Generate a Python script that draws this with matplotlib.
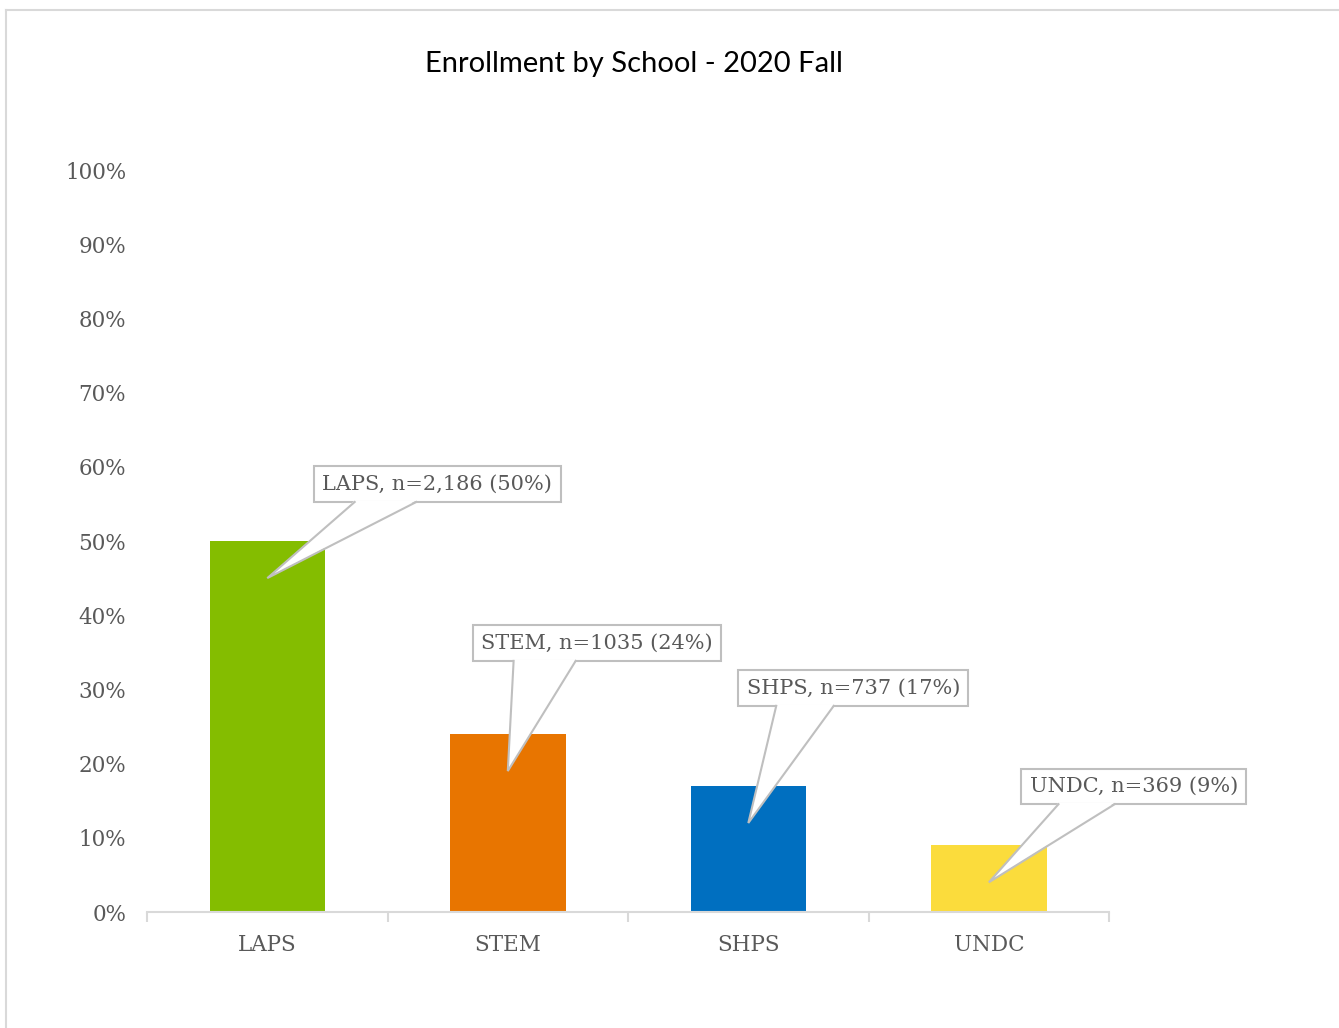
import matplotlib
matplotlib.use("Agg")
import matplotlib.pyplot as plt
from matplotlib.lines import Line2D
from matplotlib.patches import Polygon
from matplotlib.ticker import FixedLocator, PercentFormatter

schools = ["LAPS", "STEM", "SHPS", "UNDC"]
counts = ["2,186", "1035", "737", "369"]
shares = [50, 24, 17, 9]
colors = ["#84bd00", "#e87500", "#006fc0", "#fbdc3c"]
# where each callout box sits relative to the pointer tip (pixels)
callout_offsets = [(170, 94), (89, 128), (105, 135), (145, 96)]

gray_text = "#595959"
edge_gray = "#bfbfbf"
serif = "DejaVu Serif"

fig = plt.figure(figsize=(13.39, 10.28), dpi=100)
ax = fig.add_axes([0.1098, 0.1128, 0.7185, 0.7218])

x = range(len(schools))
vals = [s / 100 for s in shares]
ax.bar(x, vals, width=0.48, color=colors, zorder=2)

ax.set_xlim(-0.5, len(schools) - 0.5)
ax.set_ylim(0, 1)
ax.yaxis.set_major_locator(FixedLocator([i / 10 for i in range(11)]))
ax.yaxis.set_major_formatter(PercentFormatter(1.0, decimals=0))

for side in ["top", "right", "left"]:
    ax.spines[side].set_visible(False)
ax.spines["bottom"].set_color("#d9d9d9")
ax.spines["bottom"].set_linewidth(1.5)

ax.set_xticks(list(x))
ax.set_xticklabels(schools)
ax.set_xticks([i - 0.5 for i in range(len(schools) + 1)], minor=True)
ax.tick_params(axis="x", which="major", length=0, pad=16,
               labelsize=15.5, labelcolor=gray_text)
ax.tick_params(axis="x", which="minor", length=7, width=1.5, color="#d9d9d9")
ax.tick_params(axis="y", length=0, pad=15, labelsize=15.5, labelcolor=gray_text)
for lab in ax.get_xticklabels() + ax.get_yticklabels():
    lab.set_fontfamily(serif)

# callout boxes
tips = []
notes = []
for i, (name, n, pct) in enumerate(zip(schools, counts, shares)):
    dx, dy = callout_offsets[i]
    tip = (i, vals[i] - 0.05)
    note = ax.annotate(f"{name}, n={n} ({pct}%)",
                       xy=tip, xycoords="data",
                       xytext=(dx, dy), textcoords="offset pixels",
                       ha="center", va="center", fontsize=15,
                       family=serif, color=gray_text, zorder=5,
                       bbox=dict(boxstyle="square,pad=0.4", fc="white",
                                 ec=edge_gray, lw=1.5))
    tips.append(tip)
    notes.append(note)

# pointer wedges from the bottom edge of each box down to the bar
fig.canvas.draw()
to_fig = fig.transFigure.inverted()
for tip, note in zip(tips, notes):
    ext = note.get_bbox_patch().get_window_extent()
    xl = ext.x0 + ext.width * 0.165
    xr = ext.x0 + ext.width * 0.415
    yb = ext.y0
    tx, ty = ax.transData.transform(tip)
    pts = to_fig.transform([(xl, yb + 1.5), (tx, ty), (xr, yb + 1.5)])
    fig.add_artist(Polygon(pts, closed=True, fc="white", ec="none",
                           transform=fig.transFigure, zorder=6))
    edges = to_fig.transform([(xl, yb), (tx, ty), (xr, yb)])
    fig.add_artist(Line2D(edges[:, 0], edges[:, 1], transform=fig.transFigure,
                          color=edge_gray, lw=1.5, zorder=7,
                          solid_joinstyle="miter"))

fig.text(0.4735, 0.9377, "Enrollment by School - 2020 Fall",
         ha="center", va="center", fontsize=21, family="Lato", color="black")

# chart area border
fig.add_artist(Line2D([6 / 1339, 1.0], [1 - 10 / 1028] * 2,
                      transform=fig.transFigure, color="#d9d9d9", lw=1.5))
fig.add_artist(Line2D([6 / 1339] * 2, [0, 1 - 10 / 1028],
                      transform=fig.transFigure, color="#d9d9d9", lw=1.5))

fig.savefig("out.png", dpi=100, facecolor="white")
